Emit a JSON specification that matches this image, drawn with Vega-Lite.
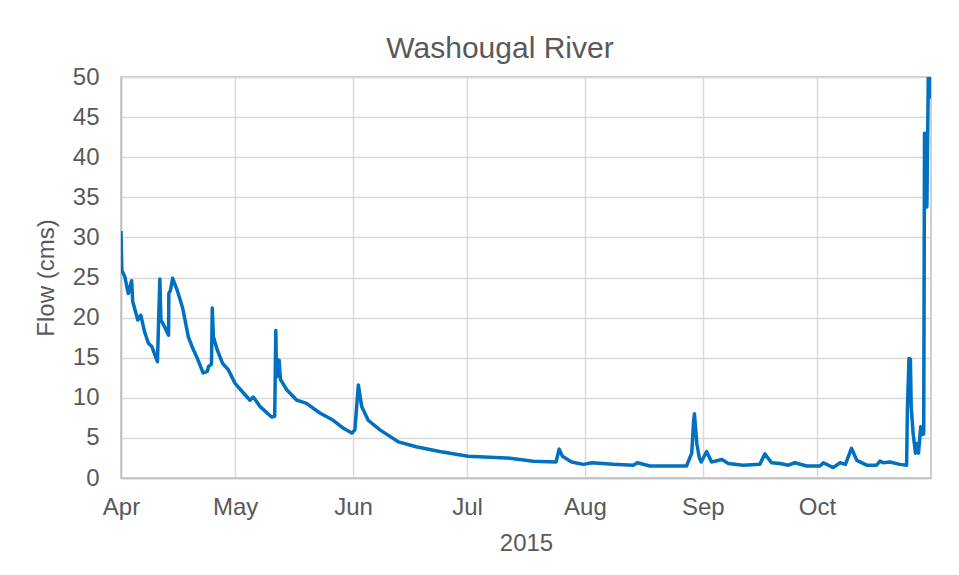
{
  "$schema": "https://vega.github.io/schema/vega-lite/v6.json",
  "autosize": "none",
  "width": 810,
  "height": 401,
  "padding": {"left": 121, "top": 77, "right": 28, "bottom": 97},
  "background": "white",
  "title": {"text": "Washougal River", "fontSize": 30, "font": "Liberation Sans", "fontWeight": "normal", "color": "#595959", "anchor": "middle", "frame": "group", "dx": -26, "offset": 1},
  "config": {
    "view": {"stroke": "#BFBFBF", "strokeWidth": 1.5},
    "axis": {"labelFont": "Liberation Sans", "titleFont": "Liberation Sans", "labelColor": "#595959", "titleColor": "#595959", "labelFontSize": 24, "titleFontSize": 24, "titleFontWeight": "normal", "gridColor": "#D9D9D9", "gridWidth": 1.5, "domainColor": "#BFBFBF", "domainWidth": 1.5, "ticks": false}
  },
  "data": {"values": [
    {"date": "2015-04-01T00:00", "flow": 30.8},
    {"date": "2015-04-01T05:00", "flow": 25.9},
    {"date": "2015-04-02T00:00", "flow": 25.1},
    {"date": "2015-04-02T22:00", "flow": 23.0},
    {"date": "2015-04-03T19:00", "flow": 24.6},
    {"date": "2015-04-04T02:00", "flow": 22.0},
    {"date": "2015-04-05T10:00", "flow": 19.7},
    {"date": "2015-04-06T05:00", "flow": 20.3},
    {"date": "2015-04-07T05:00", "flow": 18.2},
    {"date": "2015-04-08T05:00", "flow": 16.8},
    {"date": "2015-04-09T02:00", "flow": 16.4},
    {"date": "2015-04-10T14:00", "flow": 14.5},
    {"date": "2015-04-11T05:00", "flow": 24.8},
    {"date": "2015-04-11T12:00", "flow": 19.7},
    {"date": "2015-04-12T10:00", "flow": 18.9},
    {"date": "2015-04-13T12:00", "flow": 17.8},
    {"date": "2015-04-13T14:00", "flow": 23.0},
    {"date": "2015-04-14T00:00", "flow": 23.4},
    {"date": "2015-04-14T14:00", "flow": 24.9},
    {"date": "2015-04-15T19:00", "flow": 23.4},
    {"date": "2015-04-17T05:00", "flow": 21.2},
    {"date": "2015-04-18T17:00", "flow": 17.6},
    {"date": "2015-04-19T20:00", "flow": 16.2},
    {"date": "2015-04-20T22:00", "flow": 15.1},
    {"date": "2015-04-22T14:00", "flow": 13.1},
    {"date": "2015-04-23T17:00", "flow": 13.3},
    {"date": "2015-04-24T00:00", "flow": 13.9},
    {"date": "2015-04-24T19:00", "flow": 14.2},
    {"date": "2015-04-25T00:00", "flow": 21.2},
    {"date": "2015-04-25T07:00", "flow": 17.6},
    {"date": "2015-04-26T07:00", "flow": 16.0},
    {"date": "2015-04-27T17:00", "flow": 14.3},
    {"date": "2015-04-29T05:00", "flow": 13.5},
    {"date": "2015-05-01T00:00", "flow": 11.8},
    {"date": "2015-05-03T05:00", "flow": 10.6},
    {"date": "2015-05-04T22:00", "flow": 9.7},
    {"date": "2015-05-05T19:00", "flow": 10.1},
    {"date": "2015-05-07T14:00", "flow": 8.9},
    {"date": "2015-05-10T14:00", "flow": 7.6},
    {"date": "2015-05-11T10:00", "flow": 7.7},
    {"date": "2015-05-11T17:00", "flow": 18.4},
    {"date": "2015-05-11T22:00", "flow": 12.6},
    {"date": "2015-05-12T14:00", "flow": 14.7},
    {"date": "2015-05-12T22:00", "flow": 12.3},
    {"date": "2015-05-14T14:00", "flow": 11.0},
    {"date": "2015-05-17T05:00", "flow": 9.7},
    {"date": "2015-05-19T19:00", "flow": 9.3},
    {"date": "2015-05-23T07:00", "flow": 8.1},
    {"date": "2015-05-26T19:00", "flow": 7.2},
    {"date": "2015-05-29T12:00", "flow": 6.2},
    {"date": "2015-05-31T17:00", "flow": 5.6},
    {"date": "2015-06-01T12:00", "flow": 6.0},
    {"date": "2015-06-02T10:00", "flow": 11.6},
    {"date": "2015-06-03T07:00", "flow": 8.9},
    {"date": "2015-06-05T00:00", "flow": 7.2},
    {"date": "2015-06-08T02:00", "flow": 6.0},
    {"date": "2015-06-13T00:00", "flow": 4.5},
    {"date": "2015-06-17T14:00", "flow": 3.9},
    {"date": "2015-06-23T19:00", "flow": 3.3},
    {"date": "2015-07-01T07:00", "flow": 2.7},
    {"date": "2015-07-11T10:00", "flow": 2.5},
    {"date": "2015-07-18T10:00", "flow": 2.1},
    {"date": "2015-07-24T10:00", "flow": 2.0},
    {"date": "2015-07-25T05:00", "flow": 3.6},
    {"date": "2015-07-26T02:00", "flow": 2.7},
    {"date": "2015-07-28T12:00", "flow": 2.0},
    {"date": "2015-07-31T14:00", "flow": 1.7},
    {"date": "2015-08-02T19:00", "flow": 1.9},
    {"date": "2015-08-08T12:00", "flow": 1.7},
    {"date": "2015-08-13T17:00", "flow": 1.6},
    {"date": "2015-08-14T19:00", "flow": 1.9},
    {"date": "2015-08-18T02:00", "flow": 1.5},
    {"date": "2015-08-25T02:00", "flow": 1.5},
    {"date": "2015-08-27T17:00", "flow": 1.5},
    {"date": "2015-08-29T02:00", "flow": 3.1},
    {"date": "2015-08-29T14:00", "flow": 7.1},
    {"date": "2015-08-29T19:00", "flow": 8.0},
    {"date": "2015-08-30T10:00", "flow": 4.3},
    {"date": "2015-08-31T02:00", "flow": 2.5},
    {"date": "2015-08-31T14:00", "flow": 2.0},
    {"date": "2015-09-02T00:00", "flow": 3.3},
    {"date": "2015-09-03T07:00", "flow": 2.0},
    {"date": "2015-09-06T00:00", "flow": 2.3},
    {"date": "2015-09-07T17:00", "flow": 1.8},
    {"date": "2015-09-11T14:00", "flow": 1.6},
    {"date": "2015-09-16T00:00", "flow": 1.7},
    {"date": "2015-09-17T07:00", "flow": 3.0},
    {"date": "2015-09-19T02:00", "flow": 1.9},
    {"date": "2015-09-21T07:00", "flow": 1.8},
    {"date": "2015-09-23T12:00", "flow": 1.6},
    {"date": "2015-09-25T05:00", "flow": 1.9},
    {"date": "2015-09-28T07:00", "flow": 1.5},
    {"date": "2015-10-01T19:00", "flow": 1.5},
    {"date": "2015-10-02T17:00", "flow": 1.9},
    {"date": "2015-10-05T07:00", "flow": 1.3},
    {"date": "2015-10-07T02:00", "flow": 1.9},
    {"date": "2015-10-08T12:00", "flow": 1.7},
    {"date": "2015-10-10T02:00", "flow": 3.7},
    {"date": "2015-10-11T12:00", "flow": 2.2},
    {"date": "2015-10-14T02:00", "flow": 1.6},
    {"date": "2015-10-16T17:00", "flow": 1.6},
    {"date": "2015-10-17T14:00", "flow": 2.1},
    {"date": "2015-10-18T12:00", "flow": 1.9},
    {"date": "2015-10-20T05:00", "flow": 2.0},
    {"date": "2015-10-22T19:00", "flow": 1.7},
    {"date": "2015-10-24T14:00", "flow": 1.6},
    {"date": "2015-10-24T19:00", "flow": 8.5},
    {"date": "2015-10-25T05:00", "flow": 14.9},
    {"date": "2015-10-25T14:00", "flow": 14.8},
    {"date": "2015-10-25T19:00", "flow": 8.9},
    {"date": "2015-10-26T07:00", "flow": 5.6},
    {"date": "2015-10-26T22:00", "flow": 3.1},
    {"date": "2015-10-27T05:00", "flow": 4.3},
    {"date": "2015-10-27T17:00", "flow": 3.1},
    {"date": "2015-10-28T07:00", "flow": 6.4},
    {"date": "2015-10-28T14:00", "flow": 5.4},
    {"date": "2015-10-28T22:00", "flow": 6.4},
    {"date": "2015-10-29T02:00", "flow": 5.5},
    {"date": "2015-10-29T07:00", "flow": 43.0},
    {"date": "2015-10-29T14:00", "flow": 38.0},
    {"date": "2015-10-29T22:00", "flow": 33.8},
    {"date": "2015-10-30T07:00", "flow": 50.0},
    {"date": "2015-10-30T14:00", "flow": 47.5},
    {"date": "2015-10-30T22:00", "flow": 50.0}
  ]},
  "mark": {"type": "line", "color": "#0070C0", "strokeWidth": 3.5, "strokeJoin": "round", "clip": true},
  "encoding": {
    "x": {"field": "date", "type": "temporal",
      "scale": {"domain": [{"year": 2015, "month": 4, "date": 1}, {"year": 2015, "month": 10, "date": 31}], "nice": false},
      "axis": {"title": "2015", "format": "%b", "tickCount": "month", "labelPadding": 17, "titlePadding": 12, "labelOverlap": false, "labelFlush": false}},
    "y": {"field": "flow", "type": "quantitative",
      "scale": {"domain": [0, 50], "nice": false},
      "axis": {"title": "Flow (cms)", "values": [0, 5, 10, 15, 20, 25, 30, 35, 40, 45, 50], "labelPadding": 22, "titlePadding": 14, "domain": true}}
  }
}
